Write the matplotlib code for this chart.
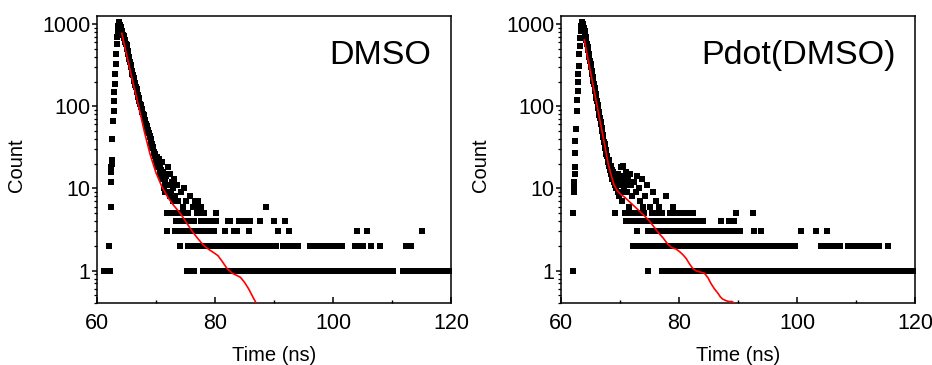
import numpy as np
import matplotlib
matplotlib.use("Agg")
import matplotlib.pyplot as plt
from matplotlib.ticker import FixedLocator, FixedFormatter, LogLocator, NullFormatter, MultipleLocator

plt.rcParams['font.family'] = ['Liberation Sans', 'DejaVu Sans']

channel_ns = 0.1  # histogram channel width

# ---------------- DMSO ----------------
# rising edge (time in ns, counts)
dmso_rise_t = [61.2, 61.7, 62.15, 62.1, 62.3, 62.4, 62.45, 62.45, 62.5, 62.5, 62.6, 62.65,
               62.8, 62.9, 62.95, 63.0, 63.1, 63.15, 63.2, 63.35, 63.45, 63.5, 63.6, 63.65]
dmso_rise_c = [1, 1, 1, 2, 6, 12, 16, 18, 20, 22, 40, 66,
               88, 117, 148, 187, 248, 327, 432, 570, 700, 820, 950, 1050]
# decay, one value per channel from 63.7 ns
dmso_decay_start = 63.7
dmso_decay_c = [1000, 1040, 980,
                930, 880, 830, 790, 740, 710, 670, 640, 600, 580,
                550, 500, 470, 430, 400, 380, 350, 320, 300, 270,
                250, 240, 220, 205, 190, 180, 170, 160, 150, 138,
                130, 125, 115, 108, 104, 98, 92, 86, 80, 78,
                72, 68, 66, 60, 58, 55, 52, 48, 47, 44,
                42, 40, 36, 35, 31, 32, 28, 27, 25, 26,
                22, 24, 20, 22, 18, 23, 16, 19, 14, 17,
                21, 13, 16, 10, 15, 12, 9, 14, 5, 3,
                18, 11, 5, 8, 15, 9, 5, 12, 7, 10,
                5, 13, 8, 3, 4, 5, 11, 7, 3, 4,
                2, 5, 9, 3, 4, 6, 5, 10, 3, 4]
# tail, one digit per channel from 75.0 ns (0 = empty channel)
dmso_tail_start = 75.0
dmso_tail = ("3741251841" "3162147325" "6273526432" "1524132143" "1234123431"
             "2451212121" "2121212312" "1241214212" "1213212312" "1421241214"
             "2121212312" "4121212121" "2121214121" "2121216121" "2121212121"
             "4211213111" "1111112124" "1212132121" "2121212121" "1211111111"
             "1111111111" "1212121212" "1212121212" "1212121212" "1212121212"
             "1212121212" "1212121111" "1111111111" "1111111212" "3121212121"
             "2111111311" "1111121111" "1111111112" "1111111111" "1111111111"
             "1100000000" "0000000011" "1111212121" "2121111111" "1111111111"
             "1311111111" "1111111111" "1111111111" "1111111111" "1111111111")
# fitted decay curve
dmso_fit_t = [64.2, 65.0, 66.0, 67.0, 68.0, 69.0, 70.0, 71.0, 72.0, 73.0, 74.0, 75.0, 76.0,
              77.0, 78.0, 79.0, 79.8, 80.5, 81.2, 82.0, 82.9, 83.6, 84.3, 85.0, 85.7, 86.4, 87.0]
dmso_fit_c = [773, 430, 208, 104, 50, 26, 15.5, 10.5, 7.8, 6.2, 5.1, 4.0, 3.1,
              2.5, 2.05, 1.8, 1.65, 1.52, 1.3, 1.07, 0.93, 0.88, 0.83, 0.72, 0.6, 0.48, 0.4]

# ---------------- Pdot(DMSO) ----------------
pdot_rise_t = [62.0, 62.05, 62.15, 62.2, 62.2, 62.3, 62.35, 62.4, 62.45, 62.55, 62.65,
               62.75, 62.8, 62.85, 62.9, 63.0, 63.05, 63.15, 63.25, 63.35, 63.45, 63.5]
pdot_rise_c = [1, 5, 9, 10, 12, 15, 18, 27, 38, 53, 88,
               119, 152, 196, 248, 312, 432, 545, 680, 820, 950, 1050]
pdot_decay_start = 63.6
pdot_decay_c = [1030, 1000, 960, 900,
                830, 760, 700, 640, 580, 520, 480, 430, 395, 360,
                325, 300, 270, 245, 225, 205, 185, 168, 152, 140,
                126, 115, 104, 95, 86, 79, 72, 65, 60, 54,
                50, 45, 42, 37, 35, 31, 29, 26, 25, 22,
                21, 19, 22, 17, 19, 15, 17, 13, 16, 12,
                14, 11, 5, 13, 10, 12, 9, 15, 8, 11,
                13, 18, 9, 12, 7, 19, 10, 14, 5, 11,
                16, 4, 9, 5, 13, 6, 4, 15, 5, 11,
                8, 4, 2, 5, 12, 4, 2, 9, 3, 14,
                2, 5, 10, 4, 7, 2, 5, 13, 4, 6,
                2, 5, 4, 8, 2, 11, 4, 1, 3, 2]
pdot_tail_start = 75.0
pdot_tail = ("2634529345" "2734526345" "2513421384" "1231452134" "6125314253"
             "1425314253" "1425314253" "1425314231" "4213421342" "1432132132"
             "1321321321" "1321321321" "1342132132" "1321342134" "2134213521"
             "3213212121" "2121212121" "2121251321" "2121212123" "1212121212"
             "1212121212" "1212121212" "1212121212" "1212121212" "1212121211"
             "1111113111" "1111111111" "1111111111" "1131111111" "1212121212"
             "2312121212" "1212121212" "1212111111" "1111111212" "1212121212"
             "1212121212" "1212121212" "1212121212" "1212121212" "1111111111"
             "1111211111" "1111111111" "1111111111" "1111111111" "1111111111")
pdot_fit_t = [63.95, 64.5, 65.0, 65.5, 66.0, 66.5, 67.0, 67.5, 68.0, 68.5, 69.0, 69.5, 70.0,
              70.8, 71.5, 72.5, 73.3, 74.2, 75.0, 75.9, 76.5, 77.3, 78.1, 78.8, 79.5, 80.1,
              80.7, 81.2, 81.8, 82.3, 82.8, 83.4, 84.3, 84.9, 85.4, 86.0, 86.6, 87.0, 87.4,
              88.0, 88.5, 89.0, 89.4]
pdot_fit_c = [640, 400, 262, 171, 112, 73, 48, 31, 20, 14.5, 11, 9.5, 8.6,
              7.8, 7.0, 6.0, 5.3, 4.6, 4.0, 3.3, 2.9, 2.5, 2.1, 1.9, 1.83, 1.7,
              1.55, 1.41, 1.2, 1.07, 1.0, 0.97, 0.93, 0.82, 0.70, 0.6, 0.53, 0.48, 0.45,
              0.43, 0.42, 0.42, 0.40]

panels = [
    ("DMSO", dmso_rise_t, dmso_rise_c, dmso_decay_start, dmso_decay_c,
     dmso_tail_start, dmso_tail, dmso_fit_t, dmso_fit_c),
    ("Pdot(DMSO)", pdot_rise_t, pdot_rise_c, pdot_decay_start, pdot_decay_c,
     pdot_tail_start, pdot_tail, pdot_fit_t, pdot_fit_c),
]


def channel_series(start, counts):
    counts = np.asarray(counts, dtype=float)
    times = np.round(start + channel_ns * np.arange(counts.size), 3)
    keep = counts > 0
    return times[keep], counts[keep]


fig = plt.figure(figsize=(9.32, 3.65), dpi=100)
fig.patch.set_facecolor("white")
lefts = [97 / 932, 561 / 932]
for left, (name, rt, rc, ds, dc, ts, tail, ft, fc) in zip(lefts, panels):
    ax = fig.add_axes([left, 61.7 / 365, 354 / 932, 287.3 / 365])
    dt, dcc = channel_series(ds, dc)
    tt, tc = channel_series(ts, [int(ch) for ch in tail])
    t_all = np.concatenate([rt, dt, tt])
    c_all = np.concatenate([rc, dcc, tc])
    ax.plot(t_all, c_all, linestyle="none", marker="s", markersize=3.8,
            markeredgewidth=0, color="black", zorder=2)
    ax.plot(ft, fc, color="#ff0000", linewidth=1.2, zorder=3)

    ax.set_yscale("log")
    ax.set_xlim(60, 120)
    ax.set_ylim(0.4, 1255)
    ax.xaxis.set_major_locator(MultipleLocator(20))
    ax.xaxis.set_minor_locator(MultipleLocator(10))
    ax.yaxis.set_major_locator(FixedLocator([1, 10, 100, 1000]))
    ax.yaxis.set_major_formatter(FixedFormatter(["1", "10", "100", "1000"]))
    ax.yaxis.set_minor_locator(LogLocator(base=10, subs=np.arange(2, 10)))
    ax.yaxis.set_minor_formatter(NullFormatter())

    ax.tick_params(axis="x", which="both", direction="in", top=False,
                   labelsize=15.5, pad=7)
    ax.tick_params(axis="x", which="major", length=4, width=1.1)
    ax.tick_params(axis="x", which="minor", length=2.5, width=1.0)
    ax.tick_params(axis="y", which="both", direction="out", right=False,
                   labelsize=15.5, pad=1)
    ax.tick_params(axis="y", which="major", length=3.5, width=1.1)
    ax.tick_params(axis="y", which="minor", length=2, width=0.9)
    for sp in ax.spines.values():
        sp.set_linewidth(1.1)

    ax.set_xlabel("Time (ns)", fontsize=14.5)
    ax.xaxis.set_label_coords(0.5, -0.15)
    ax.set_ylabel("Count", fontsize=14.5)
    ax.yaxis.label.set_verticalalignment("center")
    ax.yaxis.set_label_coords(-0.226, 0.48)

    ax.text(0.945, 0.832, name, transform=ax.transAxes, ha="right",
            va="baseline", fontsize=24.5)

fig.savefig("out.png", dpi=100, facecolor="white")
